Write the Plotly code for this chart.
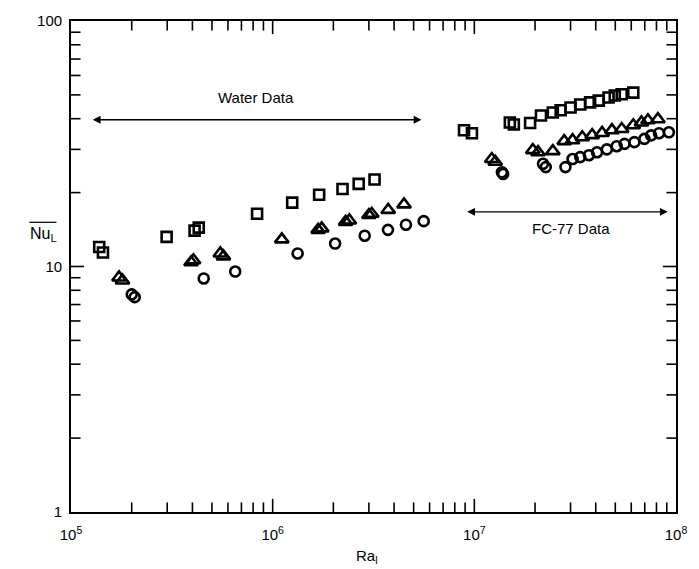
import numpy as np
import plotly.graph_objects as go

# Water data
water_sq_x = [1.38e5, 1.44e5, 2.98e5, 4.1e5, 4.3e5, 8.37e5, 1.25e6, 1.70e6, 2.22e6, 2.67e6, 3.20e6]
water_sq_y = [12.0, 11.4, 13.2, 14.0, 14.4, 16.4, 18.2, 19.6, 20.7, 21.7, 22.6]
water_tri_x = [1.73e5, 1.80e5, 3.94e5, 4.05e5, 5.5e5, 5.7e5, 1.11e6, 1.68e6, 1.75e6, 2.30e6, 2.40e6, 3.0e6, 3.1e6, 3.74e6, 4.48e6]
water_tri_y = [9.02, 8.77, 10.4, 10.6, 11.3, 11.0, 12.9, 14.1, 14.3, 15.2, 15.4, 16.2, 16.4, 17.0, 17.9]
water_cir_x = [2.0e5, 2.07e5, 4.55e5, 6.52e5, 1.33e6, 2.04e6, 2.86e6, 3.73e6, 4.58e6, 5.61e6]
water_cir_y = [7.7, 7.5, 8.94, 9.54, 11.3, 12.4, 13.35, 14.1, 14.8, 15.3]

# FC-77 data
fc_sq_x = [8.89e6, 9.73e6, 1.50e7, 1.57e7, 1.89e7, 2.14e7, 2.45e7, 2.68e7, 3.00e7, 3.35e7, 3.75e7, 4.14e7, 4.63e7, 4.97e7, 5.38e7, 6.14e7]
fc_sq_y = [35.9, 34.9, 38.6, 37.9, 38.4, 41.2, 42.4, 43.3, 44.4, 45.7, 46.6, 47.4, 48.8, 49.7, 50.3, 51.1]
fc_tri_x = [1.22e7, 1.27e7, 1.95e7, 2.07e7, 2.45e7, 2.79e7, 3.07e7, 3.43e7, 3.84e7, 4.30e7, 4.81e7, 5.38e7, 6.14e7, 6.74e7, 7.26e7, 8.13e7]
fc_tri_y = [27.4, 26.7, 29.8, 29.2, 29.5, 32.4, 32.7, 33.6, 34.3, 35.0, 35.9, 36.3, 37.6, 38.6, 39.4, 39.8]
fc_cir_x = [1.37e7, 1.39e7, 2.19e7, 2.26e7, 2.83e7, 3.07e7, 3.35e7, 3.70e7, 4.06e7, 4.54e7, 5.08e7, 5.56e7, 6.22e7, 6.97e7, 7.53e7, 8.24e7, 9.22e7]
fc_cir_y = [24.2, 23.8, 26.2, 25.4, 25.4, 27.4, 27.9, 28.4, 29.2, 30.0, 30.9, 31.6, 32.1, 33.1, 34.2, 34.9, 35.2]

x_tickvals = [1e5, 1e6, 1e7, 1e8]
x_ticktext = ["10<sup>5</sup>", "10<sup>6</sup>", "10<sup>7</sup>", "10<sup>8</sup>"]
y_tickvals = [1, 10, 100]
y_ticktext = ["1", "10", "100"]
x_minor = [float(m) * 10.0 ** e for e in (5, 6, 7) for m in range(2, 10)]
y_minor = [float(m) * 10.0 ** e for e in (0, 1) for m in range(2, 10)]

# Range annotations (data units)
water_range = (1.26e5, 5.47e6, 39.6)
fc_range = (9.06e6, 9.1e7, 16.7)

FONT = "Liberation Sans, Arial, sans-serif"
X_RANGE = [5, 8]
Y_RANGE = [0, 2]
W, H = 699, 569
M = dict(l=71, r=14, t=18, b=57)
PX_PER_DEC_X = (W - M["l"] - M["r"]) / (X_RANGE[1] - X_RANGE[0])
PX_PER_DEC_Y = (H - M["t"] - M["b"]) / (Y_RANGE[1] - Y_RANGE[0])

fig = go.Figure()

def add(xs, ys, sym, size):
    fig.add_trace(go.Scatter(
        x=xs, y=ys, mode="markers",
        marker=dict(symbol=sym, size=size, color="black",
                    line=dict(color="black", width=2.6)),
        showlegend=False))

add(water_sq_x + fc_sq_x, water_sq_y + fc_sq_y, "square-open", 10)
add(water_tri_x + fc_tri_x, water_tri_y + fc_tri_y, "triangle-up-open", 12)
add(water_cir_x + fc_cir_x, water_cir_y + fc_cir_y, "circle-open", 10)

# Inward tick marks on all four sides, drawn as short line markers
def tick_markers(xvals, yvals, length_px):
    tx, ty, sy = [], [], []
    fx = 10 ** (length_px / 2 / PX_PER_DEC_X)
    fy = 10 ** (length_px / 2 / PX_PER_DEC_Y)
    ylo, yhi = 10.0 ** Y_RANGE[0], 10.0 ** Y_RANGE[1]
    xlo, xhi = 10.0 ** X_RANGE[0], 10.0 ** X_RANGE[1]
    for v in xvals:
        tx += [v, v]
        ty += [ylo * fy, yhi / fy]
        sy += ["line-ns-open", "line-ns-open"]
    for v in yvals:
        tx += [xlo * fx, xhi / fx]
        ty += [v, v]
        sy += ["line-ew-open", "line-ew-open"]
    fig.add_trace(go.Scatter(x=tx, y=ty, mode="markers", showlegend=False,
                             hoverinfo="skip",
                             marker=dict(symbol=sy, size=length_px, color="black",
                                         line=dict(color="black", width=1.6))))

tick_markers(x_tickvals[1:-1], y_tickvals[1:-1], 11)
tick_markers(x_minor, y_minor, 8)

axis_style = dict(
    showgrid=False, zeroline=False, showline=True, linecolor="black",
    linewidth=1.8, mirror=True, ticks="",
    tickfont=dict(family=FONT, size=15, color="black"),
)
fig.update_xaxes(type="log", range=X_RANGE, tickmode="array",
                 tickvals=x_tickvals, ticktext=x_ticktext,
                 ticklabelstandoff=8, **axis_style)
fig.update_yaxes(type="log", range=Y_RANGE, tickmode="array",
                 tickvals=y_tickvals, ticktext=y_ticktext,
                 ticklabelstandoff=4, **axis_style)

def range_arrow(x0, x1, y, text, text_dy, text_dx):
    fig.add_annotation(x=np.log10(x1), y=np.log10(y), ax=np.log10(x0), ay=np.log10(y),
                       xref="x", yref="y", axref="x", ayref="y", text="",
                       showarrow=True, arrowhead=2, startarrowhead=2,
                       arrowside="end+start", arrowsize=1.2, arrowwidth=1.3,
                       arrowcolor="black", standoff=0, startstandoff=0)
    fig.add_annotation(x=(np.log10(x0) + np.log10(x1)) / 2, y=np.log10(y), xref="x", yref="y",
                       text=text, showarrow=False, yshift=text_dy, xshift=text_dx,
                       font=dict(family=FONT, size=15, color="black"))

range_arrow(water_range[0], water_range[1], water_range[2], "Water Data", 22, 0)
range_arrow(fc_range[0], fc_range[1], fc_range[2], "FC-77 Data", -17, 4)

# Axis titles
fig.add_annotation(x=0.49, y=-0.09, xref="paper", yref="paper",
                   xanchor="center", yanchor="middle",
                   text="Ra<sub>l</sub>", showarrow=False,
                   font=dict(family=FONT, size=15, color="black"))
fig.add_annotation(x=-0.046, y=0.565, xref="paper", yref="paper",
                   xanchor="center", yanchor="middle",
                   text="Nu<sub>L</sub>", showarrow=False,
                   font=dict(family=FONT, size=16, color="black"))
fig.add_shape(type="line", xref="paper", yref="paper",
              x0=-0.069, x1=-0.024, y0=0.59, y1=0.59,
              line=dict(color="black", width=1.2))

fig.update_layout(width=W, height=H, margin=M,
                  plot_bgcolor="white", paper_bgcolor="white",
                  font=dict(family=FONT, color="black"))

fig.write_html("out.html")
